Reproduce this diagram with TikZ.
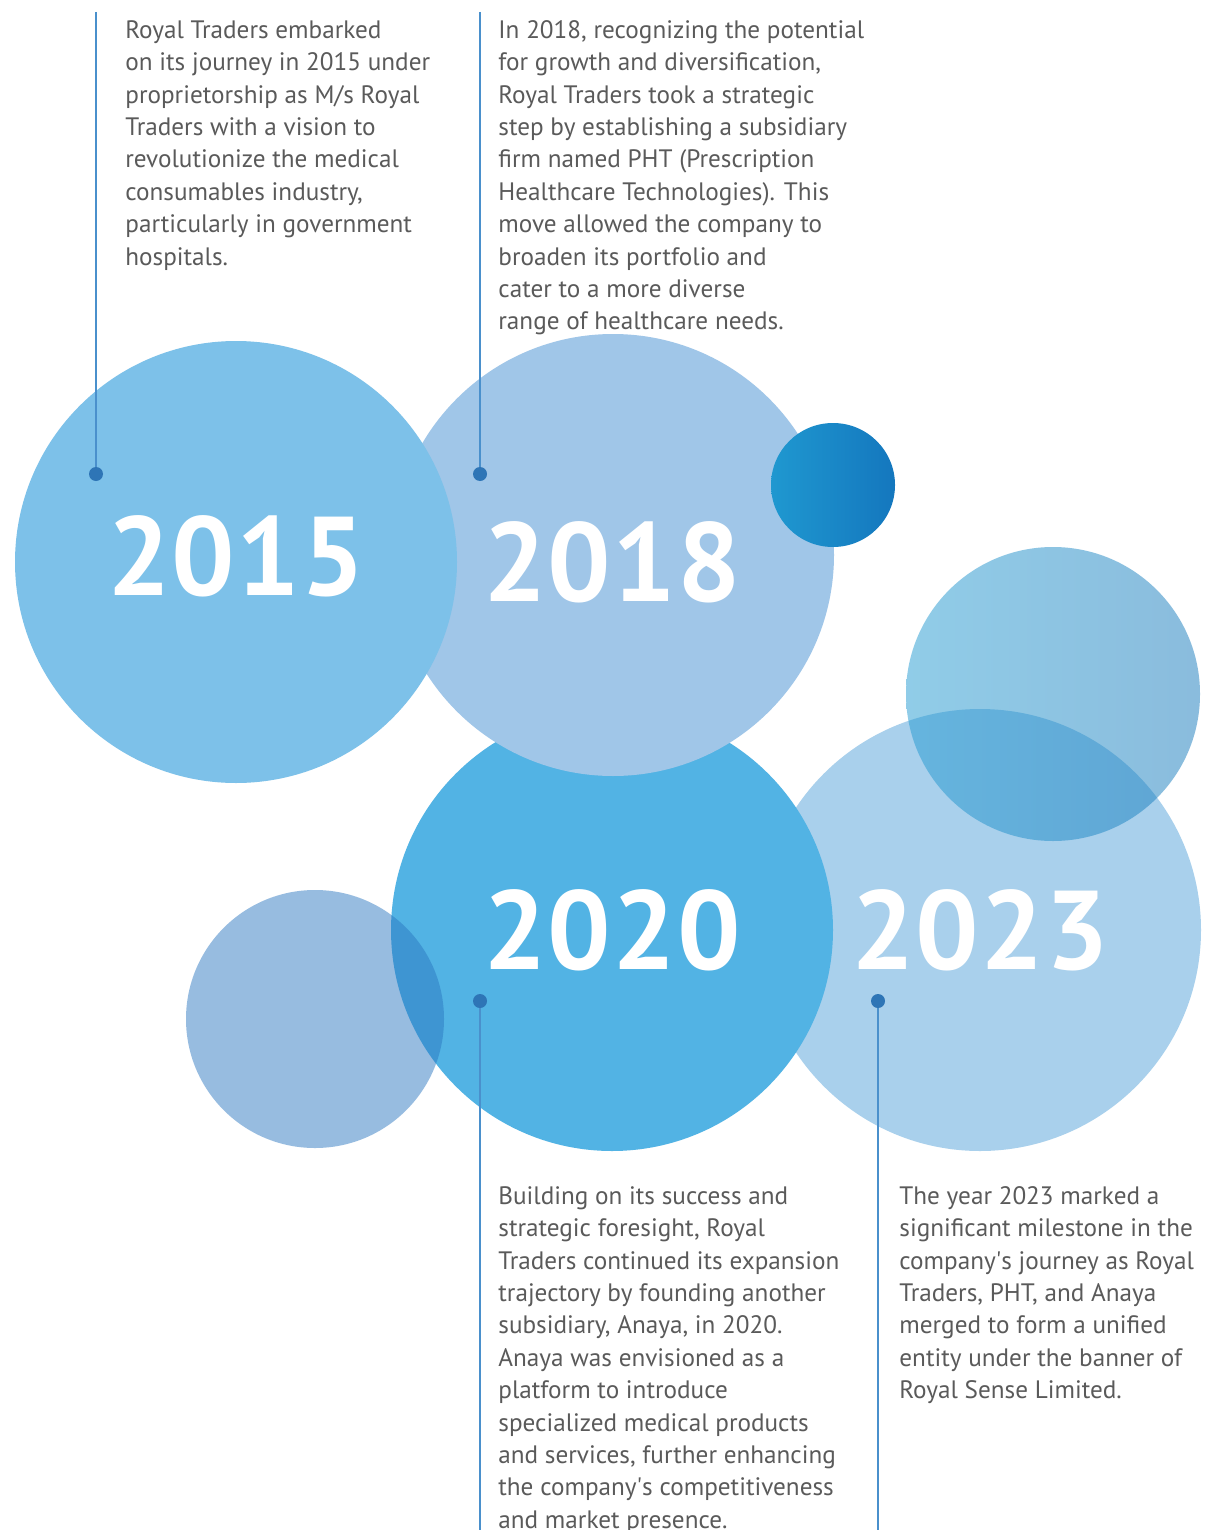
\documentclass[tikz,border=0pt]{standalone}
\usepackage{fontspec}
\setmainfont{PT Sans}
\definecolor{rsgray}{HTML}{5A5A5A}
\definecolor{rsline}{HTML}{4A90CC}
\definecolor{rsdot}{HTML}{2E75B6}
\definecolor{rsA}{HTML}{7DC1E9}
\definecolor{rsB}{HTML}{A0C6E8}
\definecolor{rsC}{HTML}{52B3E4}
\definecolor{rsD}{HTML}{A9D0EC}
\definecolor{rsE}{HTML}{2B77C0}
\definecolor{rsFl}{HTML}{239BD2}
\definecolor{rsFr}{HTML}{167ABC}
\definecolor{rsGl}{HTML}{1F98D0}
\definecolor{rsGr}{HTML}{1477BE}
\tikzset{
  year/.style={text=white,font=\fontsize{56}{56}\selectfont\bfseries\addfontfeature{LetterSpace=1}},
  story/.style={anchor=north west,inner sep=0pt,align=left,text=rsgray,
    font=\fontsize{12.6}{16.2}\selectfont},
  leader/.style={draw=rsline,line width=1pt},
  pin/.style={circle,fill=rsdot,inner sep=0pt,minimum size=7pt}
}
\begin{document}
\begin{tikzpicture}[x=0.5pt,y=-0.5pt]
\useasboundingbox[fill=white] (0,0) rectangle (1214,1530);
% Drawing bubbles
\fill[rsD] (980,930) circle[radius=221];
\fill[rsC] (612,930) circle[radius=221];
\fill[rsB] (613,555) circle[radius=221];
\fill[rsA] (236,562) circle[radius=221];
\fill[rsE,opacity=0.49] (315,1019) circle[radius=129];
\shade[left color=rsFl,right color=rsFr,opacity=0.5] (1053,694) circle[radius=147];
\shade[left color=rsGl,right color=rsGr] (833,485) circle[radius=62];
% Done with bubbles; drawing years
\node[year] (y2015) at (236,556) {2015};
\node[year] (y2018) at (612,562) {2018};
\node[year] (y2020) at (612,930) {2020};
\node[year] (y2023) at (980,930) {2023};
% Drawing leaders
\coordinate (t2015) at (96,12);
\coordinate (t2018) at (480,12);
\coordinate (b2020) at (480,1530);
\coordinate (b2023) at (878,1530);
\node[pin] (d2015) at (96,474) {};
\node[pin] (d2018) at (480,474) {};
\node[pin] (d2020) at (480,1001) {};
\node[pin] (d2023) at (878,1001) {};
\draw[leader] (t2015) -- (d2015);
\draw[leader] (t2018) -- (d2018);
\draw[leader] (d2020) -- (b2020);
\draw[leader] (d2023) -- (b2023);
% Done with leaders; drawing stories
\node[story] (s2015) at (125,20) {Royal Traders embarked\\
on its journey in 2015 under\\
proprietorship as M/s Royal\\
Traders with a vision to\\
revolutionize the medical\\
consumables industry,\\
particularly in government\\
hospitals.};
\node[story] (s2018) at (498,20) {In 2018, recognizing the potential\\
for growth and diversification,\\
Royal Traders took a strategic\\
step by establishing a subsidiary\\
firm named PHT (Prescription\\
Healthcare Technologies). This\\
move allowed the company to\\
broaden its portfolio and\\
cater to a more diverse\\
range of healthcare needs.};
\node[story] (s2020) at (498,1186) {Building on its success and\\
strategic foresight, Royal\\
Traders continued its expansion\\
trajectory by founding another\\
subsidiary, Anaya, in 2020.\\
Anaya was envisioned as a\\
platform to introduce\\
specialized medical products\\
and services, further enhancing\\
the company\textquotesingle s competitiveness\\
and market presence.};
\node[story] (s2023) at (899,1186) {The year 2023 marked a\\
significant milestone in the\\
company\textquotesingle s journey as Royal\\
Traders, PHT, and Anaya\\
merged to form a unified\\
entity under the banner of\\
Royal Sense Limited.};
% Done with stories
\end{tikzpicture}
\end{document}
